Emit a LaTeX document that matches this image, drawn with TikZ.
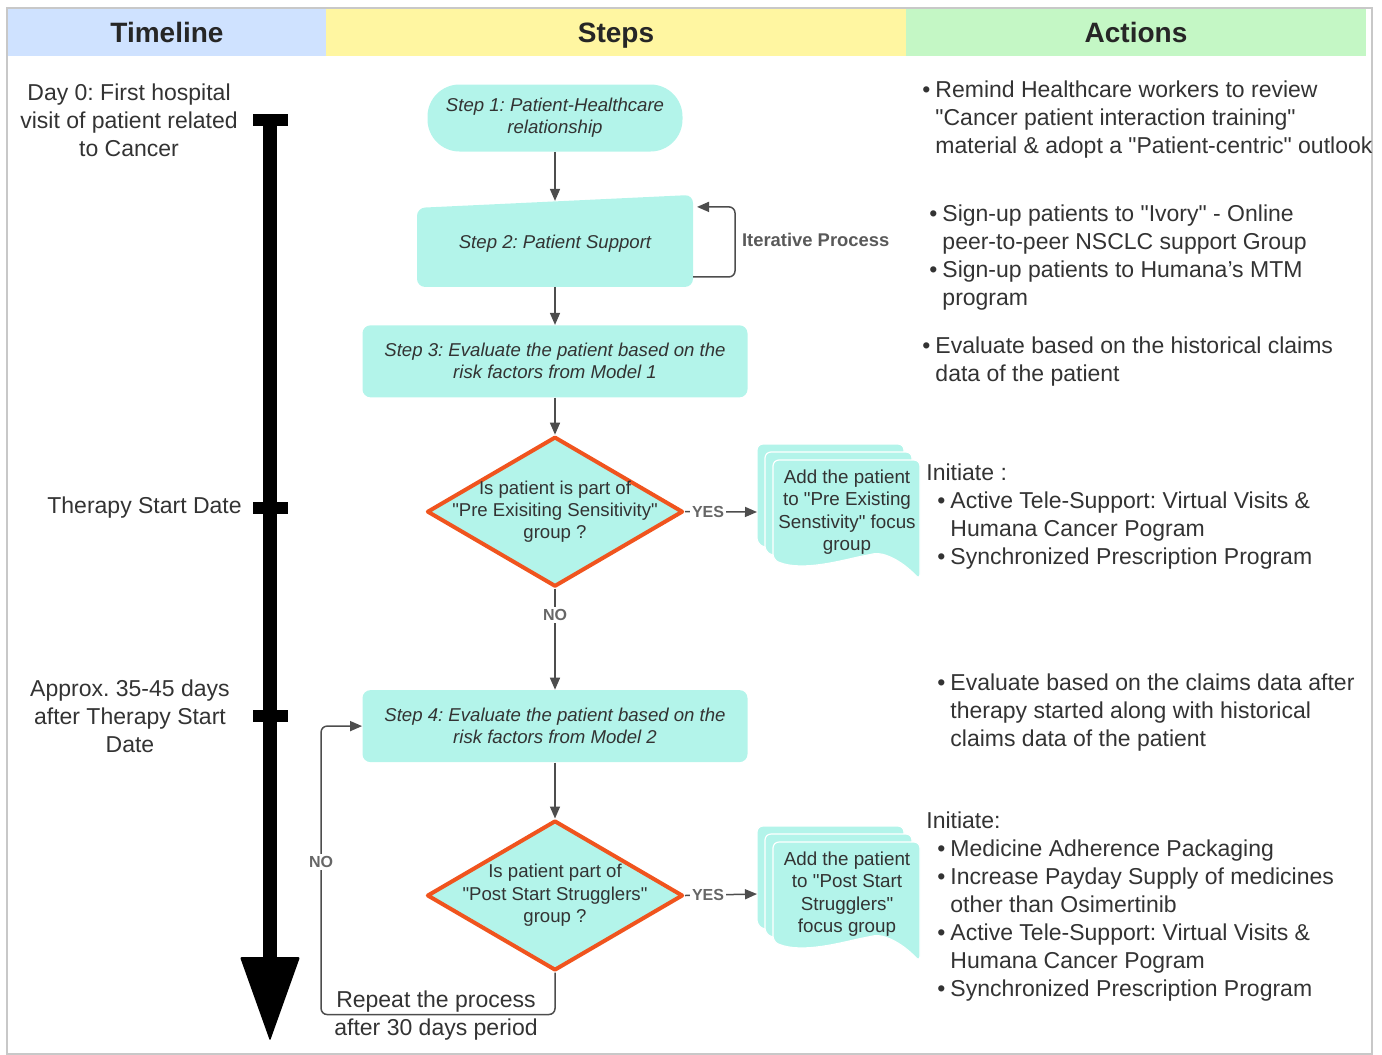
\documentclass[tikz,border=0pt]{standalone}
\usepackage{fontspec}
\setmainfont{Liberation Sans}
\usetikzlibrary{arrows.meta,positioning,shapes.geometric,calc,backgrounds}
\frenchspacing

\definecolor{hdrblue}{HTML}{CFE2FF}
\definecolor{hdryellow}{HTML}{FFF6A1}
\definecolor{hdrgreen}{HTML}{C4F7C5}
\definecolor{stepfill}{HTML}{B3F4EA}
\definecolor{decborder}{HTML}{F0541E}
\definecolor{txtgray}{HTML}{333333}
\definecolor{linegray}{HTML}{4D4D4D}
\definecolor{framegray}{HTML}{C8C8C8}

\newcommand{\q}{\textquotedbl}

% one page of a document stack, top-left corner at (#1,#2)
\newcommand{\docpage}[2]{%
  \begin{scope}[shift={(#1,#2)}]
    \filldraw[fill=stepfill, draw=white, line width=0.6pt, rounded corners=3pt]
      (0,-100) -- (0,0) -- (147,0) -- (147,-120)
      .. controls (128,-100) and (110,-92) .. (95,-95)
      .. controls (70,-100) and (30,-112) .. (0,-100) -- cycle;
  \end{scope}}

\begin{document}
\begin{tikzpicture}[x=0.5pt,y=0.5pt,>={Triangle[length=6pt,width=5pt]},
    hdr/.style={font=\fontsize{14}{16}\selectfont\bfseries, text=black!85,
      minimum height=23.5pt, text height=10pt, text depth=0pt,
      inner sep=0pt, outer sep=0pt},
    startbox/.style={rectangle, rounded corners=16pt, fill=stepfill,
      minimum width=127.5pt, minimum height=33.5pt, align=center,
      font=\fontsize{9.3}{11}\selectfont\itshape, text=txtgray},
    stepbox/.style={rectangle, rounded corners=4pt, fill=stepfill,
      minimum width=192.5pt, minimum height=36pt, align=center,
      font=\fontsize{9.3}{11}\selectfont\itshape, text=txtgray},
    decision/.style={diamond, draw=decborder, line width=2pt, line join=round,
      fill=stepfill, minimum width=128pt, minimum height=75pt, inner sep=0pt},
    dtext/.style={align=center, font=\fontsize{9.3}{11.2}\selectfont, text=txtgray},
    doctext/.style={align=center, font=\fontsize{9.4}{11.2}\selectfont, text=txtgray},
    arr/.style={->, draw=linegray, line width=0.75pt},
    yesno/.style={font=\fontsize{8}{9}\selectfont\bfseries, text=black!60,
      fill=white, inner sep=1pt},
    tick/.style={fill=black, minimum width=17.5pt, minimum height=6pt, inner sep=0pt},
    tlabel/.style={align=center, font=\fontsize{11.5}{14}\selectfont,
      text=txtgray, inner sep=0pt},
    act/.style={anchor=base west, inner sep=0pt,
      font=\fontsize{11.5}{14}\selectfont, text=txtgray}]

  \useasboundingbox (0,0) rectangle (1382,-1055);
  \draw[framegray, line width=0.6pt] (7,-8) rectangle (1372,-1054);

  % header
  \node[hdr, fill=hdrblue, minimum width=159pt] (htime) at (167,-32.5) {Timeline};
  \node[hdr, fill=hdryellow, minimum width=290pt, right=0pt of htime] (hsteps) {Steps};
  \node[hdr, fill=hdrgreen, minimum width=230pt, right=0pt of hsteps] (hactions) {Actions};

  % timeline
  \draw[line width=7pt] (270,-118) -- (270,-962);
  \fill[rounded corners=1pt] (240,-957) -- (300,-957) -- (270,-1041) -- cycle;
  \node[tick] (tday0) at (270,-120) {};
  \node[tick] (tstart) at (270,-508) {};
  \node[tick] (tlate) at (270,-716) {};
  \node[tlabel, left=7pt of tday0] (lday0) {Day 0: First hospital\\visit of patient related\\to Cancer};
  \node[tlabel, left=5pt of tstart] (lstart) {Therapy Start Date};
  \node[tlabel, left=11pt of tlate] (llate) {Approx. 35-45 days\\after Therapy Start\\Date};

  % steps
  \node[startbox] (step1) at (555,-118) {Step 1: Patient-Healthcare\\relationship};
  \node[below=24.5pt of step1, minimum width=138pt, minimum height=43pt, outer sep=0pt,
        font=\fontsize{9.3}{11}\selectfont\itshape, text=txtgray] (step2) {Step 2: Patient Support};
  \begin{scope}[on background layer]
    \fill[stepfill, rounded corners=4pt] ([yshift=-3.5pt]step2.north west)
      -- ([yshift=3pt]step2.north east) -- (step2.south east) -- (step2.south west) -- cycle;
  \end{scope}
  \node[stepbox, below=19pt of step2] (step3) {Step 3: Evaluate the patient based on the\\risk factors from Model 1};
  \node[decision, below=18.5pt of step3] (d1) {};
  \node[dtext] at (d1) {Is patient is part of\\\q Pre Exisiting Sensitivity\q\\group ?};
  \node[stepbox, below=50.5pt of d1] (step4) {Step 4: Evaluate the patient based on the\\risk factors from Model 2};
  \node[decision, below=28pt of step4] (d2) {};
  \node[dtext] at (d2) {Is patient part of\\\q Post Start Strugglers\q\\group ?};

  % focus group stacks
  \foreach \o in {0,8,16} {
    \docpage{757+\o}{-444-\o}
    \docpage{757+\o}{-826-\o}
  }
  \node[doctext] (doc1) at (847,-512) {Add the patient\\to \q Pre Existing\\Senstivity\q{} focus\\group};
  \node[doctext] (doc2) at (847,-894) {Add the patient\\to \q Post Start\\Strugglers\q\\focus group};
  \coordinate (doc1in) at (757,-512);
  \coordinate (doc2in) at (757,-894);

  % connectors
  \draw[arr] (step1) -- (step2.north);
  \draw[arr, rounded corners=3pt] ([yshift=5pt]step2.south east) -- ++(42,0)
    |- ([xshift=2pt,yshift=-3pt]step2.north east);
  \node[font=\fontsize{9.2}{11}\selectfont\bfseries, text=black!65, anchor=west] (iter) at (735,-240) {Iterative Process};
  \draw[arr] (step2) -- (step3);
  \draw[arr] (step3) -- (d1);
  \draw[arr] (d1.east) -- node[yesno, pos=0.32] {YES} (doc1in);
  \draw[arr] (d1.south) -- node[yesno, pos=0.26] {NO} (step4.north);
  \draw[arr] (step4) -- (d2);
  \draw[arr] (d2.east) -- node[yesno, pos=0.32] {YES} (doc2in);
  \draw[arr, rounded corners=3pt] (d2.south) -- ++(0,-42)
    -| ($(step4.west)+(-41,0)$) -- (step4.west);
  \node[yesno] (noloop) at (321,-862) {NO};
  \node[tlabel] (repeat) at (436,-1016) {Repeat the process\\after 30 days period};

  % actions
  \node[act] (act1) at (922,-97) {\begin{tabular}[t]{@{}l@{\hspace{2.5pt}}l@{}}
    \textbullet & Remind Healthcare workers to review\\
     & \q Cancer patient interaction training\q\\
     & material \& adopt a \q Patient-centric\q{} outlook
  \end{tabular}};
  \node[act] (act2) at (929,-221) {\begin{tabular}[t]{@{}l@{\hspace{2.5pt}}l@{}}
    \textbullet & Sign-up patients to \q Ivory\q{} - Online\\
     & peer-to-peer NSCLC support Group\\
    \textbullet & Sign-up patients to Humana's MTM\\
     & program
  \end{tabular}};
  \node[act] (act3) at (922,-353) {\begin{tabular}[t]{@{}l@{\hspace{2.5pt}}l@{}}
    \textbullet & Evaluate based on the historical claims\\
     & data of the patient
  \end{tabular}};
  \node[act] (act4) at (926,-480) {\begin{tabular}[t]{@{}l@{\hspace{2.5pt}}l@{}}
    \multicolumn{2}{@{}l@{}}{Initiate :}\\
    \hspace{5.5pt}\textbullet & Active Tele-Support: Virtual Visits \&\\
     & Humana Cancer Pogram\\
    \hspace{5.5pt}\textbullet & Synchronized Prescription Program
  \end{tabular}};
  \node[act] (act5) at (937,-690) {\begin{tabular}[t]{@{}l@{\hspace{2.5pt}}l@{}}
    \textbullet & Evaluate based on the claims data after\\
     & therapy started along with historical\\
     & claims data of the patient
  \end{tabular}};
  \node[act] (act6) at (926,-828) {\begin{tabular}[t]{@{}l@{\hspace{2.5pt}}l@{}}
    \multicolumn{2}{@{}l@{}}{Initiate:}\\
    \hspace{5.5pt}\textbullet & Medicine Adherence Packaging\\
    \hspace{5.5pt}\textbullet & Increase Payday Supply of medicines\\
     & other than Osimertinib\\
    \hspace{5.5pt}\textbullet & Active Tele-Support: Virtual Visits \&\\
     & Humana Cancer Pogram\\
    \hspace{5.5pt}\textbullet & Synchronized Prescription Program
  \end{tabular}};
\end{tikzpicture}
\end{document}
